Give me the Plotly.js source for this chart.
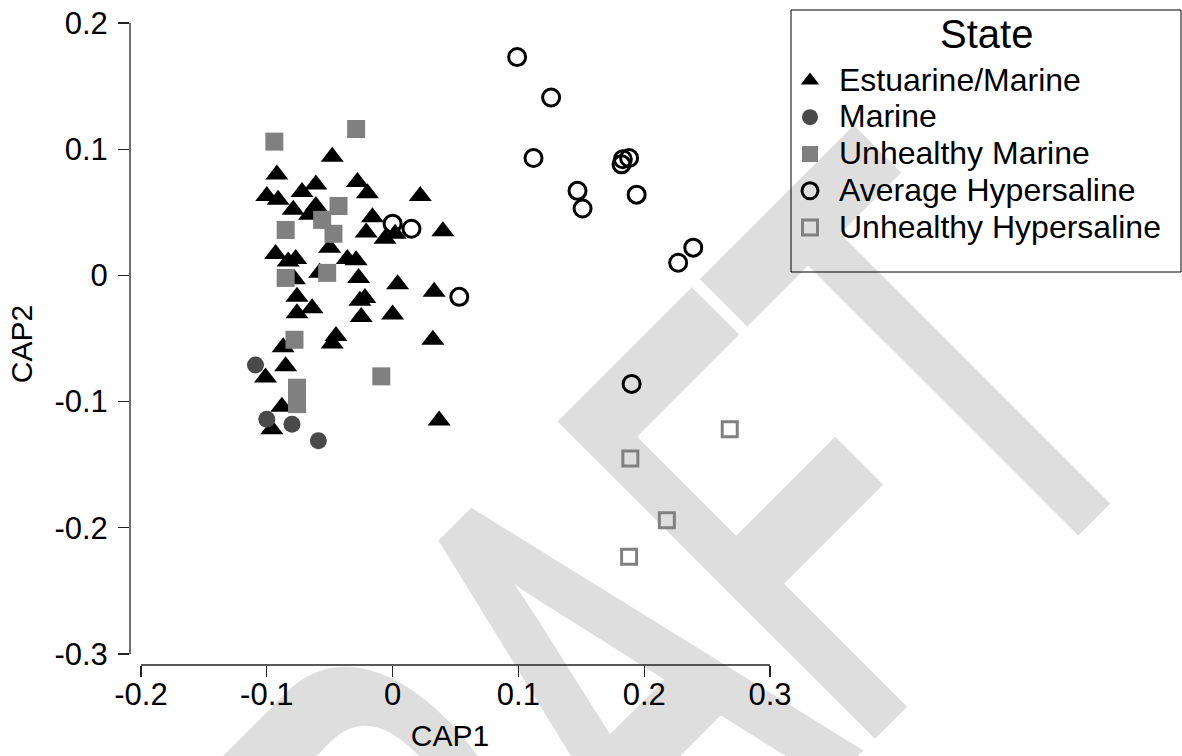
<!DOCTYPE html>
<html>
<head>
<meta charset="utf-8">
<script src="https://cdn.plot.ly/plotly-3.0.1.min.js"></script>
<style>
html,body{margin:0;padding:0;background:#fff;}
#wrap{position:relative;width:1182px;height:756px;overflow:hidden;background:#fff;}
#wm{position:absolute;left:0;top:0;z-index:0;pointer-events:none;}
#chart{position:absolute;left:0;top:0;width:1182px;height:756px;z-index:1;}
</style>
</head>
<body>
<div id="wrap">
  <svg id="wm" width="1182" height="756" xmlns="http://www.w3.org/2000/svg">
    <text x="0" y="0" font-family="Liberation Sans, Arial, sans-serif" font-size="365" fill="#dedede" stroke="#dedede" stroke-width="16" vector-effect="non-scaling-stroke" transform="translate(306 1294) rotate(-45) scale(1 1.71)">DRAFT</text>
  </svg>
  <div id="chart"></div>
</div>
<script>
// ---- data ----
var stateNames = ['Estuarine/Marine', 'Marine', 'Unhealthy Marine', 'Average Hypersaline', 'Unhealthy Hypersaline'];

var estuarineMarineX = [-0.048,-0.092,-0.028,-0.061,-0.072,-0.020,-0.100,0.022,-0.091,-0.061,-0.079,-0.066,-0.016,-0.021,0.040,-0.006,0.002,-0.093,-0.050,-0.077,-0.083,-0.036,-0.029,-0.058,-0.078,-0.027,0.004,0.033,-0.076,-0.064,-0.026,-0.022,-0.076,-0.025,0.000,-0.045,-0.048,-0.087,0.032,-0.085,-0.101,-0.088,-0.096,0.037];
var estuarineMarineY = [0.094,0.080,0.074,0.072,0.066,0.065,0.063,0.063,0.060,0.055,0.052,0.048,0.046,0.034,0.035,0.029,0.033,0.017,0.022,0.013,0.011,0.013,0.012,0.002,-0.003,-0.002,-0.007,-0.013,-0.017,-0.026,-0.020,-0.018,-0.030,-0.033,-0.031,-0.048,-0.054,-0.057,-0.051,-0.072,-0.081,-0.104,-0.122,-0.115];

var marineX = [-0.109,-0.100,-0.080,-0.059];
var marineY = [-0.071,-0.114,-0.118,-0.131];

var unhealthyMarineX = [-0.094,-0.029,-0.043,-0.056,-0.085,-0.047,-0.052,-0.085,-0.078,-0.009,-0.076,-0.076];
var unhealthyMarineY = [0.106,0.116,0.055,0.044,0.036,0.033,0.002,-0.002,-0.051,-0.080,-0.089,-0.102];

var avgHypersalineX = [0.099,0.126,0.112,0.183,0.188,0.182,0.147,0.151,0.194,0.239,0.227,0.000,0.015,0.053,0.190];
var avgHypersalineY = [0.173,0.141,0.093,0.092,0.093,0.088,0.067,0.053,0.064,0.022,0.010,0.041,0.037,-0.017,-0.086];

var unhealthyHypersalineX = [0.268,0.189,0.218,0.188];
var unhealthyHypersalineY = [-0.122,-0.145,-0.194,-0.223];

var xTicks = [-0.2, -0.1, 0, 0.1, 0.2, 0.3];
var xTickText = ['-0.2', '-0.1', '0', '0.1', '0.2', '0.3'];
var yTicks = [-0.3, -0.2, -0.1, 0, 0.1, 0.2];
var yTickText = ['-0.3', '-0.2', '-0.1', '0', '0.1', '0.2'];

var axisTitles = {x: 'CAP1', y: 'CAP2'};
var legendTitle = 'State';

// ---- styles ----
var FONT = "'Liberation Sans', Arial, sans-serif";
var AX = '#222';
var LEG_TEXT_PX = 32;

function legendLabel(s) { return '<span style="font-size:' + LEG_TEXT_PX + 'px">' + s + '</span>'; }

function mk(name, xs, ys, marker) {
  return {type: 'scatter', mode: 'markers', name: legendLabel(name), x: xs, y: ys, marker: marker, hoverinfo: 'x+y', cliponaxis: false};
}

var traces = [
  mk(stateNames[0], estuarineMarineX, estuarineMarineY, {symbol: 'triangle-up', size: 20, color: '#000', line: {width: 0}}),
  mk(stateNames[1], marineX, marineY, {symbol: 'circle', size: 17, color: '#4a4a4a', line: {width: 0}}),
  mk(stateNames[2], unhealthyMarineX, unhealthyMarineY, {symbol: 'square', size: 18, color: '#808080', line: {width: 0}}),
  mk(stateNames[3], avgHypersalineX, avgHypersalineY, {symbol: 'circle-open', size: 17, color: '#000', line: {width: 3, color: '#000'}}),
  mk(stateNames[4], unhealthyHypersalineX, unhealthyHypersalineY, {symbol: 'square-open', size: 15, color: '#808080', line: {width: 3, color: '#808080'}})
];

var pxPerUnitX = 1258, pxPerUnitY = 1260, gap = 11;
var xRange = [xTicks[0] - gap / pxPerUnitX, xTicks[xTicks.length - 1]];
var yRange = [yTicks[0] - gap / pxPerUnitY, yTicks[yTicks.length - 1]];

var commonAxis = {showgrid: false, zeroline: false, showline: false, fixedrange: true, automargin: false};

// legend box geometry (pixels)
var PL = 130, PT = 23, PW = 640, PH = 642;
function px2paperX(px) { return (px - PL) / PW; }
function px2paperY(py) { return (PT + PH - py) / PH; }

var layout = {
  width: 1182, height: 756,
  margin: {l: 130, r: 412, t: 23, b: 91, pad: 0, autoexpand: false},
  paper_bgcolor: 'rgba(0,0,0,0)',
  plot_bgcolor: 'rgba(0,0,0,0)',
  font: {family: FONT, color: '#000', size: 28},
  showlegend: true,
  xaxis: Object.assign({}, commonAxis, {
    range: xRange, tickmode: 'array', tickvals: xTicks, ticktext: xTickText,
    ticks: 'outside', ticklen: 11, tickwidth: 1.3, tickcolor: AX,
    ticklabelstandoff: -9,
    tickfont: {family: FONT, size: 31, color: '#000'},
    title: {text: axisTitles.x, font: {family: FONT, size: 30, color: '#000'}, standoff: 13}
  }),
  xaxis2: Object.assign({}, commonAxis, {
    overlaying: 'x', anchor: 'y', side: 'bottom', range: xRange, tickmode: 'array', tickvals: xTicks,
    ticks: 'inside', ticklen: 10, tickwidth: 1.3, tickcolor: AX, showticklabels: false
  }),
  yaxis: Object.assign({}, commonAxis, {
    range: yRange, tickmode: 'array', tickvals: yTicks, ticktext: yTickText,
    ticks: 'outside', ticklen: 11, tickwidth: 1.3, tickcolor: AX,
    ticklabelstandoff: 4,
    tickfont: {family: FONT, size: 31, color: '#000'},
    title: {text: axisTitles.y, font: {family: FONT, size: 30, color: '#000'}, standoff: 12}
  }),
  yaxis2: Object.assign({}, commonAxis, {
    overlaying: 'y', anchor: 'x', side: 'left', range: yRange, tickmode: 'array', tickvals: yTicks,
    ticks: 'inside', ticklen: 10, tickwidth: 1.3, tickcolor: AX, showticklabels: false
  }),
  legend: {
    x: px2paperX(781), xanchor: 'left', y: px2paperY(57), yanchor: 'top',
    bgcolor: 'rgba(0,0,0,0)', borderwidth: 0,
    font: {family: FONT, size: 26, color: '#000'},
    itemwidth: 48, tracegroupgap: 0
  },
  annotations: [
    {text: legendTitle, xref: 'paper', yref: 'paper', x: px2paperX(986), y: px2paperY(34), xanchor: 'center', yanchor: 'middle', showarrow: false, font: {family: FONT, size: 40, color: '#000'}}
  ],
  shapes: [
    {type: 'line', xref: 'x', yref: 'paper', x0: xTicks[0], x1: xTicks[xTicks.length - 1], y0: 0, y1: 0, line: {color: AX, width: 1.3}, layer: 'above'},
    {type: 'line', xref: 'paper', yref: 'y', x0: 0, x1: 0, y0: yTicks[0], y1: yTicks[yTicks.length - 1], line: {color: AX, width: 1.3}, layer: 'above'},
    {type: 'rect', xref: 'paper', yref: 'paper', x0: px2paperX(791), x1: px2paperX(1181), y0: px2paperY(272), y1: px2paperY(10), line: {color: '#000', width: 1}, fillcolor: 'rgba(0,0,0,0)', layer: 'below'}
  ]
};

Plotly.newPlot('chart', traces, layout, {displayModeBar: false, staticPlot: true});
</script>
</body>
</html>
